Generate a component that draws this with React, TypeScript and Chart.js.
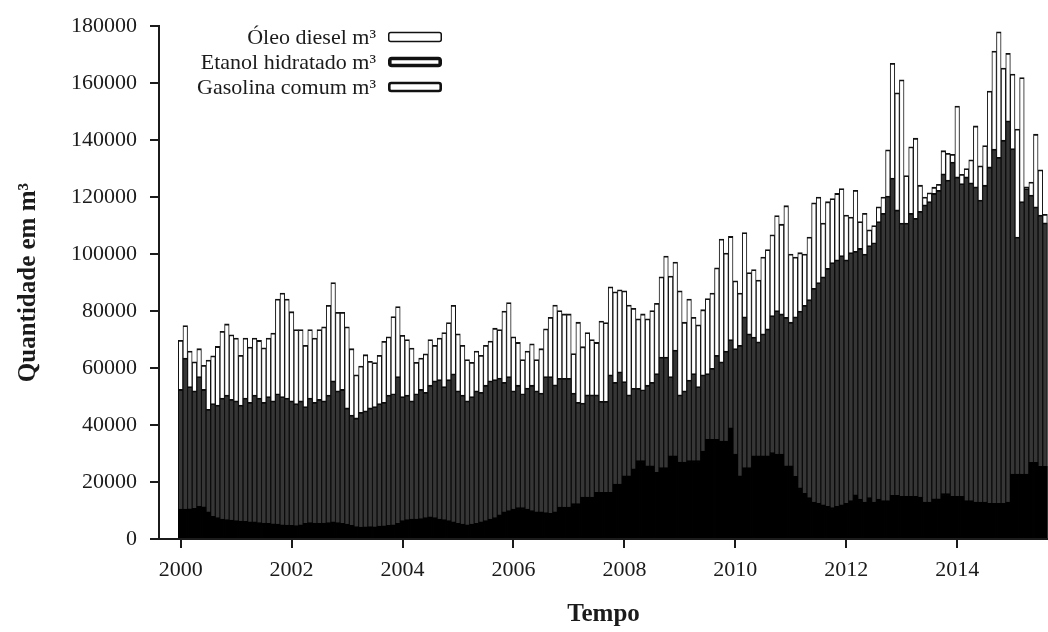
import React, { useEffect, useRef } from "react";
import { Chart, registerables } from "chart.js";

Chart.register(...registerables);

const FONT = '"Liberation Serif", "Times New Roman", serif';
const INK = "#1b1b1b";

// ---- data ----
const START_YEAR = 2000;
const xTickYears = [2000, 2002, 2004, 2006, 2008, 2010, 2012, 2014];
const yTickValues = [0, 20000, 40000, 60000, 80000, 100000, 120000, 140000, 160000, 180000];
const seriesLabels = ["Óleo diesel m³", "Etanol hidratado m³", "Gasolina comum m³"];

// monthly values, Jan 2000 .. Aug 2015
const dieselM3 = [
  69750, 74950, 66000, 62200, 66800, 61000, 62800, 64300, 67600, 72900, 75500, 71700, // 2000
  70500, 64500, 70500, 67400, 70500, 69700, 67100, 70500, 72300, 84200, 86300, 84200, // 2001
  79800, 73500, 73500, 68000, 73500, 70500, 73500, 74500, 82000, 90000, 79600, 79600, // 2002
  74500, 66800, 57600, 60700, 64700, 62400, 61900, 64500, 69400, 71000, 78100, 81600, // 2003
  71500, 70000, 67000, 62000, 63500, 65000, 70000, 68000, 70500, 72500, 76000, 82000, // 2004
  72000, 68000, 63000, 62000, 66000, 64500, 68000, 69500, 74000, 73500, 80000, 83000, // 2005
  71000, 69000, 63000, 66000, 68500, 63000, 66800, 73800, 77800, 82100, 80200, 79000, // 2006
  79000, 65100, 76100, 67500, 72500, 70000, 69000, 76500, 76000, 88500, 86800, 87500, // 2007
  87100, 82100, 81000, 77300, 79000, 77300, 80200, 82700, 92000, 99300, 92300, 97200, // 2008
  87100, 76100, 84200, 77800, 75200, 80500, 84400, 86300, 95200, 105300, 100400, 106200, // 2009
  90600, 86300, 107600, 93500, 94600, 90900, 99000, 101600, 106800, 113500, 110500, 117000, // 2010
  100000, 99000, 100500, 100000, 106000, 118000, 120000, 110900, 118400, 119500, 121300, 123000, // 2011
  113700, 113000, 122400, 111400, 114300, 108500, 110000, 116600, 120000, 136600, 167000, 156600, // 2012
  161200, 127600, 137700, 140700, 124200, 120000, 121500, 123500, 124500, 136300, 135400, 135000, // 2013
  152000, 128000, 130000, 133100, 145000, 131000, 138100, 157200, 171300, 178000, 165300, 170500, // 2014
  163200, 143900, 162000, 123600, 125300, 142100, 129600, 114000, // 2015
];

const etanolM3 = [
  10500, 10500, 10600, 10800, 11500, 11300, 9500, 8000, 7500, 7000, 6800, 6600, // 2000
  6500, 6300, 6200, 6000, 6000, 5800, 5600, 5500, 5300, 5200, 5000, 4900, // 2001
  4800, 4700, 5000, 5500, 5800, 5600, 5500, 5600, 5800, 6000, 5800, 5500, // 2002
  5200, 4800, 4400, 4200, 4300, 4400, 4300, 4500, 4600, 4800, 5000, 5500, // 2003
  6500, 6800, 7000, 7000, 7200, 7500, 7800, 7500, 7000, 6800, 6500, 6000, // 2004
  5500, 5200, 5000, 5200, 5500, 6000, 6500, 7000, 7500, 8500, 9500, 10000, // 2005
  10500, 11000, 11000, 10500, 10000, 9500, 9500, 9300, 9000, 9500, 11200, 11200, // 2006
  11200, 12400, 12400, 14700, 14700, 14700, 16400, 16400, 16400, 16400, 19300, 19300, // 2007
  22200, 22200, 24600, 27500, 27500, 25700, 25700, 23400, 25100, 25100, 29200, 29200, // 2008
  27000, 27000, 27500, 27500, 27500, 30900, 35000, 35000, 35000, 34400, 34400, 39000, // 2009
  29800, 22200, 25100, 25100, 29200, 29200, 29200, 29200, 30300, 29800, 29800, 25700, // 2010
  25700, 22000, 18000, 16000, 14500, 13000, 12500, 12000, 11500, 11000, 11500, 12000, // 2011
  12500, 13500, 15500, 14000, 13000, 14500, 13000, 14000, 13500, 13500, 15300, 15300, // 2012
  15000, 15000, 15000, 15000, 14700, 13000, 13000, 14100, 14100, 15900, 15900, 15000, // 2013
  15000, 15000, 13500, 13500, 13000, 13000, 13000, 12500, 12500, 12500, 12500, 13000, // 2014
  22800, 22800, 22800, 22800, 26900, 26900, 25500, 25500, // 2015
];

const gasolinaM3 = [
  52500, 63500, 53500, 52000, 57000, 52500, 45500, 47500, 47000, 49500, 50500, 49000, // 2000
  48500, 47000, 49500, 48000, 50500, 49500, 48000, 50000, 48500, 51000, 50000, 49500, // 2001
  48500, 47500, 48500, 46500, 49500, 48000, 49000, 48500, 50500, 55500, 52000, 52500, // 2002
  46000, 43500, 42500, 44500, 45000, 46000, 46500, 47500, 48000, 50500, 51000, 57000, // 2003
  50000, 50500, 48500, 51000, 52500, 51500, 54000, 55500, 56000, 53500, 56000, 58000, // 2004
  52000, 50500, 48500, 50000, 52000, 51500, 54000, 55500, 56000, 56500, 55000, 57000, // 2005
  52000, 54000, 51000, 53000, 54000, 52000, 51200, 57000, 57000, 54100, 56400, 56400, // 2006
  56400, 51200, 48000, 47700, 50600, 50600, 50600, 48300, 48300, 57600, 55000, 58700, // 2007
  55300, 50600, 52900, 52900, 52400, 54000, 55000, 58100, 63900, 63900, 57000, 66300, // 2008
  50600, 52000, 55800, 58100, 53500, 57600, 58100, 59900, 64500, 62200, 66000, 70000, // 2009
  66800, 68000, 78000, 72000, 70900, 69200, 72000, 73800, 78400, 80200, 79000, 77800, // 2010
  76100, 78000, 80000, 82000, 84000, 88000, 90000, 92000, 95000, 97000, 98000, 99500, // 2011
  98000, 100500, 101000, 102000, 100000, 103000, 104000, 111400, 114300, 120400, 126700, 115500, // 2012
  110900, 110900, 114300, 112600, 115000, 117300, 118400, 121300, 122400, 128200, 126000, 132300, // 2013
  127100, 124800, 127100, 125000, 123600, 119000, 124200, 130600, 136900, 134000, 140000, 146800, // 2014
  137000, 106000, 118400, 123000, 120700, 116600, 113700, 111000, // 2015
];

const monthKeys = dieselM3.map(
  (_, i) => `${START_YEAR + Math.floor(i / 12)}-${String((i % 12) + 1).padStart(2, "0")}`
);
const monthToYear = (key: string) => {
  const [y, m] = key.split("-").map(Number);
  return y + (m - 1) / 12;
};
const toPoints = (values: number[]) =>
  values.map((v, i) => ({ x: monthToYear(monthKeys[i]), y: v }));

// ---- layout ----
const W = 1048;
const H = 632;
const X_MIN = 1999.61;
const X_MAX = 2015.637;

const legendStyles = [
  { fill: "#ffffff", lw: 1.5 },
  { fill: "#ffffff", lw: 3.6 },
  { fill: "#ffffff", lw: 2.6 },
];

const insideLegend = {
  id: "insideLegend",
  afterDraw(chart: any) {
    const { ctx, chartArea } = chart;
    ctx.save();
    ctx.font = `22px ${FONT}`;
    ctx.textAlign = "right";
    ctx.textBaseline = "alphabetic";
    const textRight = chartArea.left + 217;
    const boxLeft = chartArea.left + 229;
    const boxW = 54;
    const boxH = 10.5;
    seriesLabels.forEach((label, i) => {
      const cy = 37 + i * 25;
      ctx.fillStyle = INK;
      ctx.fillText(label, textRight, cy + 6.8);
      const st = legendStyles[i];
      ctx.lineWidth = st.lw;
      ctx.strokeStyle = "#111";
      ctx.fillStyle = st.fill;
      ctx.beginPath();
      const x = boxLeft + st.lw / 2;
      const y = cy - boxH / 2 + st.lw / 2;
      const w = boxW - st.lw;
      const h = boxH - st.lw;
      if ((ctx as any).roundRect) (ctx as any).roundRect(x, y, w, h, 2);
      else ctx.rect(x, y, w, h);
      ctx.fill();
      ctx.stroke();
    });
    ctx.restore();
  },
};

const axisGrid = {
  display: true,
  drawOnChartArea: false,
  drawTicks: true,
  offset: false,
  tickLength: 9,
  tickWidth: 2,
  tickColor: INK,
  color: INK,
  lineWidth: 2,
};

export default function App() {
  const canvasRef = useRef<HTMLCanvasElement | null>(null);

  useEffect(() => {
    if (!canvasRef.current) return;
    const barBorder = { top: 1.8, left: 1.0, right: 1.0, bottom: 0 };
    const chart = new Chart(canvasRef.current, {
      type: "bar",
      data: {
        datasets: [
          {
            label: seriesLabels[0],
            data: toPoints(dieselM3),
            backgroundColor: "#ffffff",
            borderColor: "#111111",
            borderWidth: barBorder,
            grouped: false,
            order: 3,
            barPercentage: 1,
            categoryPercentage: 1,
          },
          {
            label: seriesLabels[1],
            data: toPoints(etanolM3),
            backgroundColor: "#000000",
            borderColor: "#000000",
            borderWidth: barBorder,
            grouped: false,
            order: 1,
            barPercentage: 1,
            categoryPercentage: 1,
          },
          {
            label: seriesLabels[2],
            data: toPoints(gasolinaM3),
            backgroundColor: "#363636",
            borderColor: "#0c0c0c",
            borderWidth: barBorder,
            grouped: false,
            order: 2,
            barPercentage: 1,
            categoryPercentage: 1,
          },
        ] as any,
      },
      options: {
        responsive: false,
        animation: false,
        devicePixelRatio: 1,
        layout: { padding: { top: 21, left: 0, right: 0, bottom: 0 } },
        plugins: {
          legend: { display: false },
          tooltip: { enabled: false },
        },
        scales: {
          x: {
            type: "linear",
            offset: false,
            min: X_MIN,
            max: X_MAX,
            afterBuildTicks: (s: any) => {
              s.ticks = xTickYears.map((v) => ({ value: v }));
            },
            afterFit: (s: any) => {
              s.height = 93;
            },
            ticks: {
              callback: (v: any) => String(v),
              font: { family: FONT, size: 22 },
              color: INK,
              padding: 9,
              maxRotation: 0,
              autoSkip: false,
              includeBounds: false,
            },
            grid: axisGrid,
            border: { display: true, color: INK, width: 2 },
            title: {
              display: true,
              text: "Tempo",
              font: { family: FONT, size: 25, weight: "bold" },
              color: INK,
              padding: { top: 0, bottom: 2.5 },
            },
          },
          y: {
            type: "linear",
            offset: false,
            min: 0,
            max: 180000,
            afterBuildTicks: (s: any) => {
              s.ticks = yTickValues.map((v) => ({ value: v }));
            },
            afterFit: (s: any) => {
              s.width = 159;
            },
            ticks: {
              callback: (v: any) => String(v),
              font: { family: FONT, size: 22 },
              color: INK,
              padding: 13,
            },
            grid: axisGrid,
            border: { display: true, color: INK, width: 2 },
            title: {
              display: true,
              text: "Quantidade em m³",
              font: { family: FONT, size: 25, weight: "bold" },
              color: INK,
              padding: { top: 13.5, bottom: 0 },
            },
          },
        },
      } as any,
      plugins: [insideLegend],
    });
    return () => chart.destroy();
  }, []);

  return (
    <div
      style={{
        position: "absolute",
        left: 0,
        top: 0,
        width: W,
        height: H,
        background: "#ffffff",
        overflow: "hidden",
      }}
    >
      <canvas ref={canvasRef} width={W} height={H} style={{ display: "block" }} />
    </div>
  );
}
